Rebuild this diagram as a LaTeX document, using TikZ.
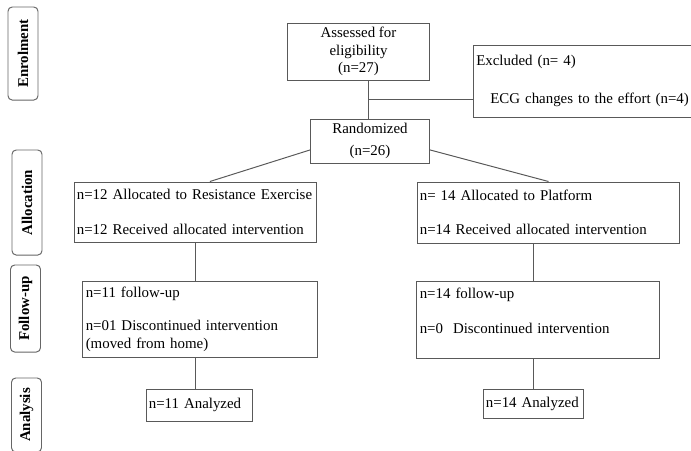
\documentclass[tikz,border=0pt]{standalone}
\usepackage{fontspec}
\setmainfont{Liberation Serif}
\usetikzlibrary{calc}

\begin{document}
\begin{tikzpicture}[x=0.025cm, y=-0.025cm, font=\fontsize{10.6}{12.5}\selectfont,
  box/.style={draw=black!65, line width=0.7pt, inner sep=2pt},
  stage/.style={draw=black!60, line width=0.7pt, rounded corners=3pt, rotate=90, minimum height=0.75cm, inner sep=1pt, font=\fontsize{10.6}{12.5}\selectfont\bfseries},
  link/.style={draw=black!65, line width=0.7pt}]
  \useasboundingbox (0,0) rectangle (691,450);
  % stages on the left
  \node[stage, minimum width=2.325cm] (enrol) at (23,53.5) {Enrolment};
  \node[stage, minimum width=2.625cm] (alloc) at (27,202.5) {Allocation};
  \node[stage, minimum width=2.175cm] (follow) at (25.5,308.5) {Follow-up};
  \node[stage, minimum width=1.85cm] (analys) at (26.5,415) {Analysis};
  % enrolment
  \node[box, align=center, minimum width=3.525cm, minimum height=1.425cm] (assess) at (358.5,51.5) {Assessed for\\eligibility\\(n=27)};
  \node[box, anchor=west, align=left, text width=6cm, minimum height=1.8cm] (excl) at (473,81) {Excluded (n= 4)\\[15pt]\hspace{10pt}ECG changes to the effort (n=4)};
  \node[box, align=center, minimum width=2.95cm, minimum height=1.1cm] (rand) at (370,141) {Randomized\\[3pt](n=26)};
  \coordinate (j) at (368,99);
  % allocation
  \node[box, align=left, text width=5.93cm, minimum height=1.5cm] (alocl) at (195.5,212) {n=12 Allocated to Resistance Exercise\\[12.5pt]n=12 Received allocated intervention};
  \node[box, align=left, text width=6.43cm, minimum height=1.525cm] (alocr) at (548.5,212.5) {n= 14 Allocated to Platform\\[11.5pt]n=14 Received allocated intervention};
  % follow-up
  \node[box, align=left, text width=5.71cm, minimum height=1.9cm] (fupl) at (200,319) {n=11 follow-up\\[11.5pt]n=01 Discontinued intervention\\(moved from home)};
  \node[box, align=left, text width=5.91cm, minimum height=1.925cm] (fupr) at (538,319.5) {n=14 follow-up\\[12.5pt]n=0~~Discontinued intervention\\~};
  % analysis
  \node[box, align=left, text width=2.53cm, minimum height=0.8cm] (anal) at (199.5,405) {n=11 Analyzed};
  \node[box, align=left, text width=2.38cm, minimum height=0.725cm] (anar) at (533.5,403.5) {n=14 Analyzed};
  % connectors
  \draw[link] (rand.north -| j) -- (j |- assess.south);
  \draw[link] (j) -- (j -| excl.west);
  \draw[link] ([yshift=-0.22cm]rand.west) -- ([xshift=0.36cm]alocl.north);
  \draw[link] ([yshift=-0.22cm]rand.east) -- (alocr.north);
  \draw[link] (alocl.south) -- (alocl.south |- fupl.north);
  \draw[link] ([xshift=-0.12cm]fupr.north) -- ([xshift=-0.12cm]fupr.north |- alocr.south);
  \draw[link] (anal.north -| alocl.south) -- (alocl.south |- fupl.south);
  \draw[link] (anar.north) -- (anar.north |- fupr.south);
\end{tikzpicture}
\end{document}
